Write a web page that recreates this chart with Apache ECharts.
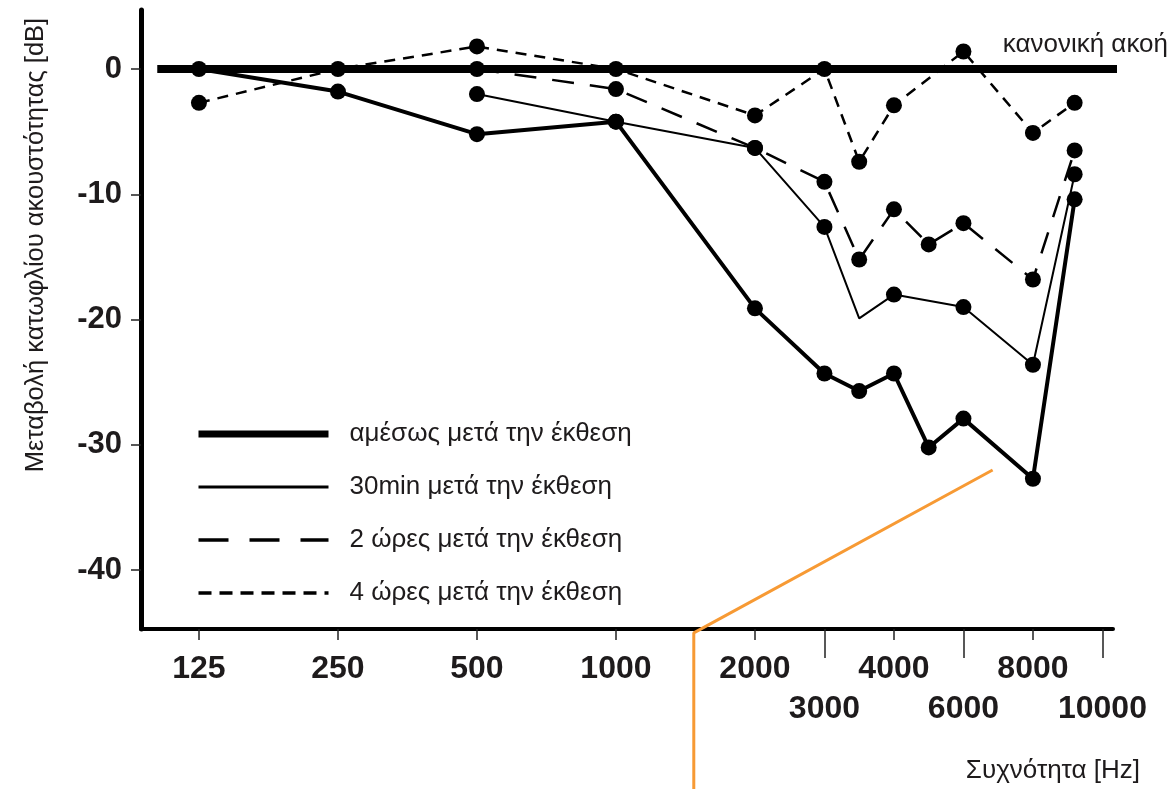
<!DOCTYPE html>
<html>
<head>
<meta charset="utf-8">
<script src="https://cdn.jsdelivr.net/npm/echarts@6/dist/echarts.min.js"></script>
<style>html,body{margin:0;padding:0;background:#fff}#c{width:1175px;height:789px}</style>
</head>
<body>
<div id="c"></div>
<script>
// ---- data ----
const freqLabels = ['125','250','500','1000','2000','3000','3500','4000','5000','6000','8000','10000'];
const freqPos    = [0, 1, 2, 3, 4, 4.5, 4.75, 5, 5.25, 5.5, 6, 6.3];
const immediate  = [0, -1.8, -5.2, -4.2, -19.1, -24.3, -25.7, -24.3, -30.2, -27.9, -32.7, -10.4];
const after30min = [null, null, -2.0, -4.2, -6.3, -12.6, -19.9, -18.0, null, -19.0, -23.6, -8.4];
const after2h    = [null, null, 0, -1.6, -6.3, -9.0, -15.2, -11.2, -14.0, -12.3, -16.8, -6.5];
const after4h    = [-2.7, 0, 1.8, 0, -3.7, 0, -7.4, -2.9, null, 1.4, -5.1, -2.7];
const noMarker30min = ['3500'];
const seriesNames = ['αμέσως μετά την έκθεση','30min μετά την έκθεση','2 ώρες μετά την έκθεση','4 ώρες μετά την έκθεση'];
const tickPosTop = [0, 1, 2, 3, 4, 5, 6];
const tickLabelsTop = ['125','250','500','1000','2000','4000','8000'];
const tickPosBottom = [4.5, 5.5, 6.5];
const tickLabelsBottom = ['3000','6000','10000'];
const yTicks = [0, -10, -20, -30, -40];
const normalLine = [[-0.3, 0], [6.62, 0]];
const normalLabel = 'κανονική ακοή';
const annotationLine = [[5.71, -32.0], [3.56, -45.0], [3.56, -57.6]];
const yTitle = 'Μεταβολή κατωφλίου ακουστότητας [dB]';
const xTitle = 'Συχνότητα [Hz]';

const FONT = '"Liberation Sans", Arial, sans-serif';
const INK = '#1e1b1c';

function build(vals, hidden) {
  const out = [];
  vals.forEach((v, i) => {
    if (v === null) return;
    const item = { value: [freqPos[i], v] };
    if (hidden && hidden.indexOf(freqLabels[i]) >= 0) item.symbol = 'none';
    out.push(item);
  });
  return out;
}
function lookup(pos, labs) {
  return function (v) {
    for (let i = 0; i < pos.length; i++) if (Math.abs(pos[i] - v) < 1e-6) return labs[i];
    return '';
  };
}

const chart = echarts.init(document.getElementById('c'));
const baseSeries = {
  type: 'line', symbol: 'circle', symbolSize: 16, color: '#000',
  itemStyle: { color: '#000' }, z: 3
};
chart.setOption({
  animation: false,
  backgroundColor: '#fff',
  grid: { left: 141, right: 62, top: 10, bottom: 160, containLabel: false },
  xAxis: [{
    type: 'value', min: -0.417, max: 6.576, position: 'bottom',
    splitLine: { show: false },
    axisLine: { show: true, onZero: false, lineStyle: { color: '#000', width: 4 } },
    axisTick: { show: true, customValues: tickPosTop, length: 11, lineStyle: { color: '#222', width: 1.5 } },
    axisLabel: { customValues: tickPosTop, formatter: lookup(tickPosTop, tickLabelsTop), margin: 24,
      fontFamily: FONT, fontWeight: 'bold', fontSize: 32, color: INK }
  }, {
    type: 'value', min: -0.417, max: 6.576, position: 'bottom',
    splitLine: { show: false },
    axisLine: { show: false, onZero: false },
    axisTick: { show: true, customValues: tickPosBottom, length: 29, lineStyle: { color: '#222', width: 1.5 } },
    axisLabel: { customValues: tickPosBottom, formatter: lookup(tickPosBottom, tickLabelsBottom), margin: 64,
      fontFamily: FONT, fontWeight: 'bold', fontSize: 32, color: INK }
  }],
  yAxis: {
    type: 'value', min: -44.69, max: 4.71,
    splitLine: { show: false },
    axisLine: { show: true, onZero: false, lineStyle: { color: '#000', width: 5 } },
    axisTick: { show: true, customValues: yTicks, length: 10, lineStyle: { color: '#222', width: 1.5 } },
    axisLabel: { customValues: yTicks, margin: 19, fontFamily: FONT, fontWeight: 'bold', fontSize: 31, color: INK }
  },
  legend: {
    orient: 'vertical', left: 195, top: 421, padding: 0, itemWidth: 130, itemHeight: 14, itemGap: 27,
    textStyle: { fontFamily: FONT, fontSize: 26, color: INK, padding: [0, 0, 0, 16] },
    itemStyle: { opacity: 0 },
    data: [
      { name: seriesNames[0], lineStyle: { width: 7, type: 'solid' } },
      { name: seriesNames[1], lineStyle: { width: 3, type: 'solid' } },
      { name: seriesNames[2], lineStyle: { width: 3.5, type: [30, 21] } },
      { name: seriesNames[3], lineStyle: { width: 3.5, type: [13, 8] } }
    ]
  },
  graphic: [
    { type: 'text', x: 36, y: 245, rotation: Math.PI / 2,
      style: { text: yTitle, font: '25.5px ' + FONT, fill: INK, align: 'center', verticalAlign: 'middle' } },
    { type: 'text', x: 1140, y: 771,
      style: { text: xTitle, font: '26px ' + FONT, fill: INK, align: 'right', verticalAlign: 'middle' } },
    { type: 'text', x: 1168, y: 45,
      style: { text: normalLabel, font: '26px ' + FONT, fill: INK, align: 'right', verticalAlign: 'middle' } }
  ],
  series: [
    { type: 'line', name: normalLabel, data: normalLine, symbol: 'none', clip: false,
      lineStyle: { color: '#000', width: 8 }, z: 2, silent: true },
    Object.assign({}, baseSeries, { name: seriesNames[3], data: build(after4h),
      lineStyle: { color: '#000', width: 2.5, type: [11, 8] } }),
    Object.assign({}, baseSeries, { name: seriesNames[2], data: build(after2h),
      lineStyle: { color: '#000', width: 2.5, type: [22, 16] } }),
    Object.assign({}, baseSeries, { name: seriesNames[1], data: build(after30min, noMarker30min),
      lineStyle: { color: '#000', width: 2 } }),
    Object.assign({}, baseSeries, { name: seriesNames[0], data: build(immediate),
      lineStyle: { color: '#000', width: 4 } }),
    { type: 'line', name: 'annotation', data: annotationLine, symbol: 'none', clip: false,
      lineStyle: { color: '#f79a34', width: 3 }, z: 4, silent: true }
  ]
});
</script>
</body>
</html>
